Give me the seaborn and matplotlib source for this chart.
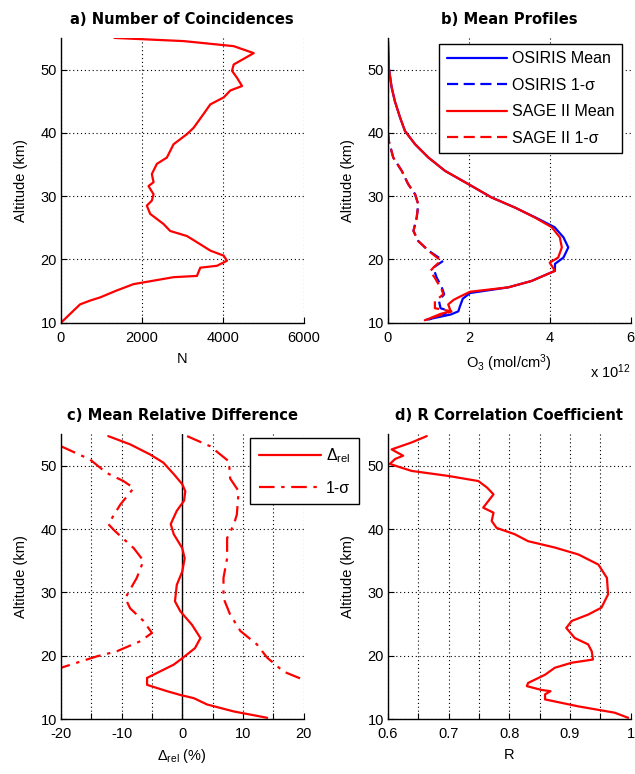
import matplotlib
matplotlib.use("Agg")
import matplotlib.pyplot as plt
import seaborn as sns
from matplotlib.lines import Line2D

# ---------------- data ----------------
# a) number of coincidences
alt_n = [55.0, 54.5, 53.7, 52.6, 50.8, 49.8, 48.7, 47.4, 46.7, 45.6, 44.5, 43.0, 40.8, 39.8,
         38.2, 36.1, 35.1, 33.5, 32.2, 31.6, 30.3, 29.3, 28.5, 27.2, 25.6, 24.5, 23.7, 22.4,
         21.4, 20.6, 19.8, 19.0, 18.7, 17.4, 17.2, 16.1, 15.1, 14.0, 13.5, 12.9, 10.0]
n_coinc = [1322, 3033, 4272, 4768, 4272, 4231, 4355, 4479, 4190, 4025, 3694, 3529, 3281, 3116,
           2785, 2620, 2372, 2248, 2290, 2165, 2290, 2248, 2124, 2207, 2537, 2702, 3116, 3446,
           3694, 4025, 4107, 3860, 3446, 3364, 2785, 1793, 1380, 967, 719, 471, 0]

# b) mean profiles (units of 1e12 mol/cm3)
alt_mean_sage = [54.5, 50.3, 47.2, 45.0, 42.4, 40.3, 38.2, 36.1, 34.0, 31.9, 29.8, 28.2, 26.6,
                 25.1, 23.5, 21.9, 20.3, 19.5, 18.2, 16.6, 15.6, 14.9, 14.0, 13.6, 12.9, 11.8,
                 11.4, 10.7, 10.4]
sage_mean = [0.0, 0.02, 0.09, 0.17, 0.30, 0.42, 0.67, 1.00, 1.41, 1.99, 2.56, 3.14, 3.64,
             4.05, 4.25, 4.30, 4.21, 4.00, 4.13, 3.55, 2.98, 2.03, 1.74, 1.62, 1.49, 1.55,
             1.30, 1.04, 0.91]
alt_mean_osiris = [54.5, 50.3, 47.2, 45.0, 42.4, 40.3, 38.2, 36.1, 34.0, 31.9, 29.8, 28.2, 26.6,
                   25.1, 23.5, 21.9, 20.3, 19.3, 18.2, 16.6, 15.6, 14.7, 13.8, 12.6, 11.8,
                   11.3, 10.5]
osiris_mean = [0.0, 0.02, 0.09, 0.17, 0.30, 0.42, 0.67, 1.00, 1.41, 1.99, 2.56, 3.14, 3.66,
               4.12, 4.34, 4.46, 4.34, 4.13, 4.13, 3.55, 2.98, 2.03, 1.85, 1.78, 1.74,
               1.55, 0.96]
alt_sig_osiris = [48.0, 44.0, 40.0, 38.7, 36.1, 34.0, 31.9, 30.3, 28.7, 26.6, 24.5, 22.9, 21.4,
                  19.8, 18.7, 17.2, 15.6, 14.5, 13.5, 12.3, 11.9, 11.3, 10.5]
osiris_sig = [0.0, 0.0, 0.0, 0.02, 0.13, 0.34, 0.50, 0.67, 0.75, 0.71, 0.63, 0.75, 1.00,
              1.37, 1.12, 1.20, 1.33, 1.39, 1.26, 1.30, 1.49, 1.40, 1.00]
alt_sig_sage = [40.0, 38.7, 36.1, 34.0, 31.9, 30.3, 28.7, 26.6, 24.5, 22.9, 21.4, 19.8, 18.7,
                18.1, 17.2, 15.2, 14.5, 13.4, 12.3, 11.8, 11.2, 10.6]
sage_sig = [0.0, 0.02, 0.13, 0.34, 0.50, 0.67, 0.75, 0.71, 0.63, 0.75, 1.00, 1.31, 1.12,
            1.04, 1.15, 1.33, 1.37, 1.16, 1.16, 1.57, 1.30, 0.95]

# c) mean relative difference (%)
alt_rel = [54.7, 53.4, 51.8, 50.5, 48.7, 47.1, 46.0, 44.5, 42.9, 40.8, 39.2, 37.0, 35.4, 33.3,
           31.2, 28.6, 27.0, 24.9, 22.8, 21.2, 19.6, 18.6, 16.5, 15.4, 14.4, 13.8, 13.3, 12.3,
           11.2, 10.2]
delta_rel = [-12.2, -8.6, -5.3, -3.1, -1.4, 0.0, 0.5, 0.3, -0.9, -1.9, -1.4, 0.0, 0.4, 0.0,
             -0.9, -1.2, -0.3, 1.6, 3.0, 2.1, 0.0, -1.4, -5.8, -5.8, -2.5, -0.3, 1.9, 4.1,
             8.5, 14.0]
alt_sig_hi = [54.7, 53.1, 50.7, 48.0, 46.0, 42.3, 40.7, 38.6, 35.4, 32.3, 29.1, 26.5, 23.9,
              21.8, 19.7, 17.5, 16.2]
sigma_hi = [0.8, 4.6, 7.7, 7.9, 9.3, 9.0, 8.5, 7.4, 7.4, 6.8, 6.8, 7.9, 9.6, 12.3, 14.0, 16.7, 20.0]
alt_sig_lo = [53.1, 51.0, 48.9, 47.6, 46.5, 43.9, 40.8, 39.7, 37.0, 35.0, 32.3, 29.1, 27.5,
              25.5, 23.6, 22.3, 20.7, 19.9, 18.1]
sigma_lo = [-20.0, -15.2, -12.5, -9.7, -8.0, -10.2, -12.2, -11.1, -8.0, -6.4, -7.5, -9.4, -8.6,
            -6.4, -5.0, -6.9, -10.8, -14.1, -20.0]

# d) correlation coefficient
alt_r = [54.7, 53.7, 52.6, 51.6, 51.1, 50.3, 49.2, 48.4, 47.6, 46.6, 45.5, 43.4, 42.6, 41.3,
         40.2, 39.2, 38.1, 37.1, 36.0, 34.4, 32.3, 29.7, 27.6, 26.5, 25.5, 24.4, 22.8, 21.8,
         20.7, 19.4, 18.9, 18.1, 17.0, 15.7, 15.2, 14.6, 14.4, 13.9, 13.1, 12.0, 11.0, 10.2]
r_coef = [0.664, 0.639, 0.606, 0.625, 0.612, 0.603, 0.639, 0.700, 0.749, 0.763, 0.774, 0.757,
          0.774, 0.771, 0.779, 0.809, 0.831, 0.875, 0.914, 0.947, 0.961, 0.963, 0.952, 0.930,
          0.903, 0.894, 0.908, 0.930, 0.936, 0.938, 0.903, 0.875, 0.859, 0.831, 0.829, 0.853,
          0.868, 0.859, 0.859, 0.914, 0.974, 0.996]

alt_ticks = [10, 20, 30, 40, 50]

# ---------------- style ----------------
sns.set_style("ticks")
plt.rcParams['font.family'] = ['Liberation Sans', 'DejaVu Sans']
plt.rcParams['mathtext.fontset'] = 'custom'
plt.rcParams['mathtext.rm'] = 'Liberation Sans'
plt.rcParams['mathtext.it'] = 'Liberation Sans:italic'
plt.rcParams['mathtext.bf'] = 'Liberation Sans:bold'
plt.rcParams['font.size'] = 10.5
for key in ('text.color', 'axes.labelcolor', 'xtick.color', 'ytick.color', 'axes.edgecolor'):
    plt.rcParams[key] = 'black'

RED = '#ff0000'
BLUE = '#0000ff'
LW = 1.6
DASH = (0, (5, 2.5))
DASHDOT = (0, (7, 3, 1.5, 3))

fig = plt.figure(figsize=(6.35, 7.74), dpi=100)
W = 0.382
H = 0.368
ax_a = fig.add_axes([0.096, 0.583, W, H])
ax_b = fig.add_axes([0.611, 0.583, W, H])
ax_c = fig.add_axes([0.096, 0.071, W, H])
ax_d = fig.add_axes([0.611, 0.071, W, H])


def style_axis(ax, title, xlabel, xlabelpad=3):
    ax.set_ylim(10, 55)
    ax.set_yticks(alt_ticks)
    for s in ('top', 'right'):
        ax.spines[s].set_visible(False)
    for s in ('left', 'bottom'):
        ax.spines[s].set_color('black')
        ax.spines[s].set_linewidth(1.0)
    ax.tick_params(direction='in', length=4, width=0.8, colors='black', labelsize=10.5)
    ax.tick_params(axis='x', pad=6)
    ax.tick_params(axis='y', pad=3)
    ax.grid(True, linestyle=(0, (1, 2.5)), color='black', linewidth=0.8)
    ax.set_title(title, fontweight='bold', fontsize=10.6, pad=10, color='black',
                 family=['DejaVu Sans'])
    ax.set_ylabel('Altitude (km)', fontsize=10.5, labelpad=9, color='black')
    ax.set_xlabel(xlabel, fontsize=10.5, labelpad=xlabelpad, color='black')


# a)
sns.lineplot(x=n_coinc, y=alt_n, sort=False, estimator=None, color=RED, lw=LW, ax=ax_a)
ax_a.set_xlim(0, 6000)
ax_a.set_xticks([0, 2000, 4000, 6000])
style_axis(ax_a, 'a) Number of Coincidences', 'N', xlabelpad=5)

# b)
sns.lineplot(x=osiris_sig, y=alt_sig_osiris, sort=False, estimator=None, color=BLUE, lw=LW,
             linestyle=DASH, ax=ax_b)
sns.lineplot(x=osiris_mean, y=alt_mean_osiris, sort=False, estimator=None, color=BLUE, lw=LW,
             ax=ax_b)
sns.lineplot(x=sage_sig, y=alt_sig_sage, sort=False, estimator=None, color=RED, lw=LW,
             linestyle=DASH, ax=ax_b)
sns.lineplot(x=sage_mean, y=alt_mean_sage, sort=False, estimator=None, color=RED, lw=LW,
             ax=ax_b)
ax_b.set_xlim(0, 6)
ax_b.set_xticks([0, 2, 4, 6])
style_axis(ax_b, 'b) Mean Profiles', 'O$_3$ (mol/cm$^3$)', xlabelpad=5)
ax_b.text(1.0, -0.172, r'x 10$^{12}$', transform=ax_b.transAxes, ha='right', va='center',
          fontsize=10.5, color='black')
handles_b = [Line2D([], [], color=BLUE, lw=LW),
             Line2D([], [], color=BLUE, lw=LW, linestyle=DASH),
             Line2D([], [], color=RED, lw=LW),
             Line2D([], [], color=RED, lw=LW, linestyle=DASH)]
leg_b = ax_b.legend(handles_b, ['OSIRIS Mean', 'OSIRIS 1-σ', 'SAGE II Mean', 'SAGE II 1-σ'],
                    loc='upper right', bbox_to_anchor=(0.964, 0.979), frameon=True,
                    fancybox=False, edgecolor='black', framealpha=1, handlelength=3.8,
                    handletextpad=0.3, borderpad=0.45, labelspacing=0.72, borderaxespad=0,
                    fontsize=11.5)
leg_b.get_frame().set_linewidth(1.0)

# c)
ax_c.axvline(0, color='black', lw=1.0)
sns.lineplot(x=delta_rel, y=alt_rel, sort=False, estimator=None, color=RED, lw=LW, ax=ax_c)
sns.lineplot(x=sigma_hi, y=alt_sig_hi, sort=False, estimator=None, color=RED, lw=LW,
             linestyle=DASHDOT, ax=ax_c)
sns.lineplot(x=sigma_lo, y=alt_sig_lo, sort=False, estimator=None, color=RED, lw=LW,
             linestyle=DASHDOT, ax=ax_c)
ax_c.set_xlim(-20, 20)
ax_c.set_xticks([-20, -15, -10, -5, 0, 5, 10, 15, 20])
ax_c.set_xticklabels(['-20', '', '-10', '', '0', '', '10', '', '20'])
style_axis(ax_c, 'c) Mean Relative Difference', 'Δ$_{\\mathrm{rel}}$ (%)', xlabelpad=4)
handles_c = [Line2D([], [], color=RED, lw=LW),
             Line2D([], [], color=RED, lw=LW, linestyle=DASHDOT)]
leg_c = fig.legend(handles_c, ['Δ$_{\\mathrm{rel}}$', '1-σ'],
                   loc='upper left', bbox_to_anchor=(250 / 635, 1 - 438 / 774), frameon=True,
                   fancybox=False, edgecolor='black', framealpha=1, handlelength=3.9,
                   handletextpad=0.3, borderpad=0.55, labelspacing=0.95, borderaxespad=0,
                   fontsize=11.5)
leg_c.get_frame().set_linewidth(1.0)

# d)
sns.lineplot(x=r_coef, y=alt_r, sort=False, estimator=None, color=RED, lw=LW, ax=ax_d)
ax_d.set_xlim(0.6, 1.0)
ax_d.set_xticks([0.6, 0.65, 0.7, 0.75, 0.8, 0.85, 0.9, 0.95, 1.0])
ax_d.set_xticklabels(['0.6', '', '0.7', '', '0.8', '', '0.9', '', '1'])
style_axis(ax_d, 'd) R Correlation Coefficient', 'R', xlabelpad=5)

fig.savefig('out.png', dpi=100, facecolor='white')
